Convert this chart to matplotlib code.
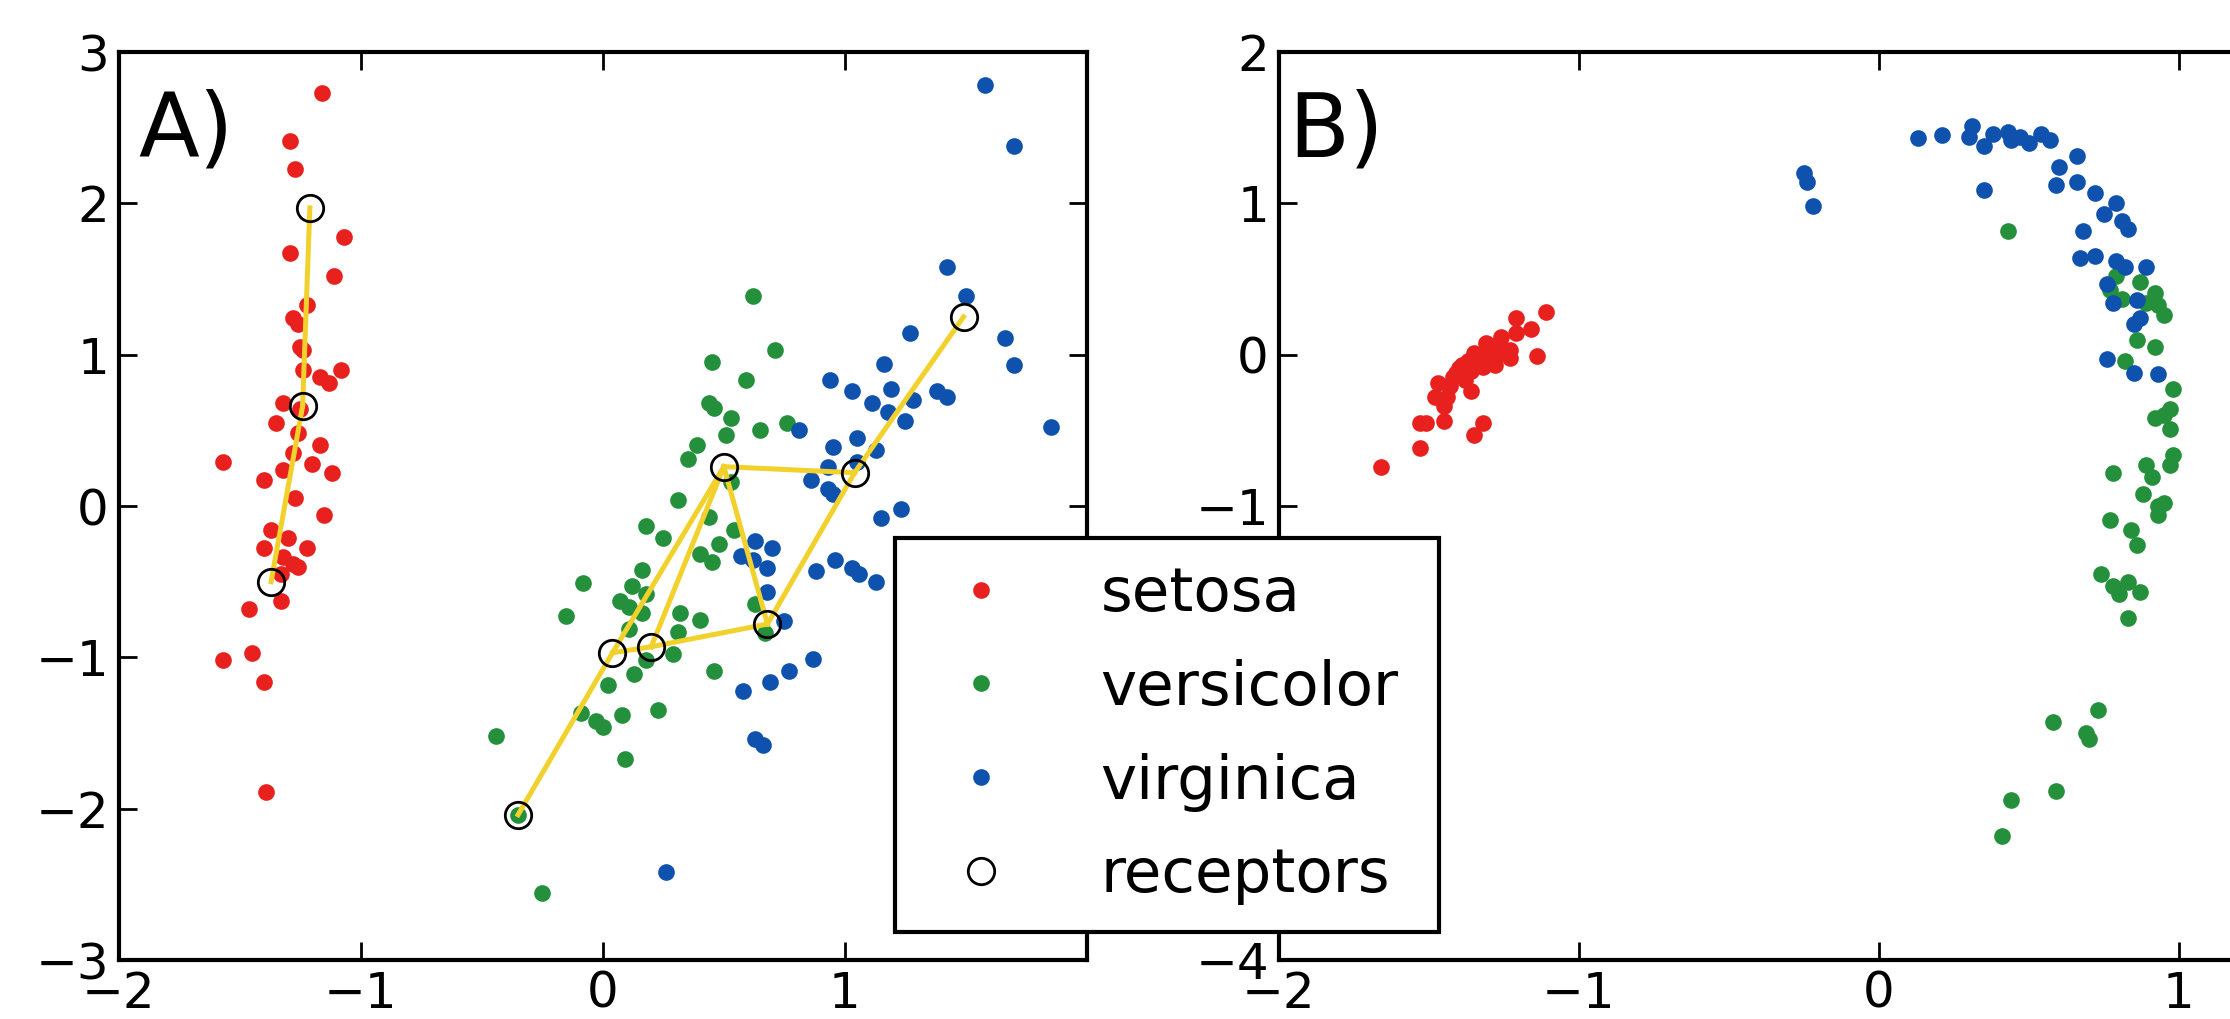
import matplotlib
matplotlib.use('Agg')
import matplotlib.pyplot as plt

# panel A: projected iris data with receptor graph
setosa_a_x = [-1.16, -1.29, -1.27, -1.07, -1.29, -1.11, -1.22, -1.28, -1.26, -1.25, -1.24,
              -1.24, -1.08, -1.17, -1.13, -1.32, -1.25, -1.35, -1.26, -1.17, -1.28, -1.57,
              -1.20, -1.32, -1.40, -1.12, -1.27, -1.15, -1.37, -1.30, -1.40, -1.22, -1.32,
              -1.28, -1.26, -1.33, -1.33, -1.46, -1.45, -1.57, -1.40, -1.39]
setosa_a_y = [2.73, 2.41, 2.23, 1.78, 1.67, 1.52, 1.33, 1.24, 1.20, 1.05, 1.03,
              0.90, 0.90, 0.85, 0.81, 0.68, 0.64, 0.55, 0.48, 0.40, 0.35, 0.29,
              0.28, 0.24, 0.17, 0.22, 0.05, -0.06, -0.16, -0.21, -0.28, -0.28, -0.34,
              -0.38, -0.40, -0.45, -0.63, -0.68, -0.97, -1.02, -1.16, -1.89]

versicolor_a_x = [0.62, 0.71, 0.45, 0.59, 0.44, 0.46, 0.53, 0.76, 0.65, 0.51, 0.39, 0.35,
                  0.53, 0.31, 0.44, 0.18, 0.25, 0.54, 0.48, 0.40, 0.45, 0.16, -0.08, 0.12,
                  0.18, 0.07, 0.11, 0.16, 0.63, 0.32, -0.15, 0.40, 0.11, 0.31, 0.67, 0.29,
                  0.18, 0.46, 0.13, 0.02, -0.09, 0.08, 0.23, -0.03, 0.00, -0.44, 0.09,
                  -0.35, -0.25]
versicolor_a_y = [1.39, 1.03, 0.95, 0.83, 0.68, 0.65, 0.58, 0.55, 0.50, 0.47, 0.40, 0.31,
                  0.16, 0.04, -0.07, -0.13, -0.21, -0.16, -0.25, -0.32, -0.37, -0.42, -0.51, -0.53,
                  -0.58, -0.63, -0.67, -0.71, -0.65, -0.71, -0.73, -0.75, -0.81, -0.83, -0.84, -0.98,
                  -1.02, -1.09, -1.11, -1.18, -1.37, -1.38, -1.35, -1.42, -1.46, -1.52, -1.67,
                  -2.04, -2.56]

virginica_a_x = [1.58, 1.70, 1.42, 1.50, 1.27, 1.66, 1.70, 1.16, 0.94, 1.03, 1.19, 1.38,
                 1.42, 1.11, 1.28, 1.18, 1.25, 1.85, 0.81, 1.05, 0.95, 1.13, 1.05, 0.93,
                 0.86, 0.93, 0.95, 1.15, 1.23, 0.63, 0.70, 0.57, 0.62, 0.68, 0.96, 0.88,
                 1.03, 1.06, 1.13, 0.68, 0.75, 0.87, 0.77, 0.69, 0.58, 0.63, 0.66, 0.26]
virginica_a_y = [2.78, 2.38, 1.58, 1.39, 1.14, 1.11, 0.93, 0.94, 0.83, 0.76, 0.77, 0.76,
                 0.72, 0.68, 0.70, 0.62, 0.56, 0.52, 0.50, 0.45, 0.39, 0.37, 0.29, 0.26,
                 0.17, 0.11, 0.08, -0.08, -0.02, -0.23, -0.28, -0.33, -0.36, -0.41, -0.36, -0.43,
                 -0.41, -0.45, -0.50, -0.57, -0.76, -1.01, -1.09, -1.16, -1.22, -1.54, -1.58, -2.42]

receptors_x = [-1.21, -1.24, -1.37, -0.35, 0.04, 0.20, 0.68, 0.50, 1.04, 1.49]
receptors_y = [1.97, 0.66, -0.50, -2.04, -0.97, -0.93, -0.78, 0.26, 0.22, 1.25]
# connections between receptors (index pairs)
edges = [(0, 1), (1, 2), (3, 4), (4, 7), (4, 5), (5, 7), (5, 6), (6, 7), (7, 8), (8, 6), (8, 9)]

# panel B: mapped data
setosa_b_x = [-1.11, -1.21, -1.16, -1.21, -1.26, -1.31, -1.14, -1.23, -1.23, -1.28, -1.35,
              -1.37, -1.32, -1.40, -1.42, -1.36, -1.38, -1.47, -1.43, -1.36, -1.48, -1.44,
              -1.45, -1.45, -1.51, -1.53, -1.32, -1.35, -1.53, -1.66, -1.30, -1.33, -1.27,
              -1.25, -1.39, -1.29, -1.41, -1.34]
setosa_b_y = [0.28, 0.24, 0.17, 0.14, 0.12, 0.08, -0.01, 0.03, -0.02, -0.07, 0.01,
              -0.04, -0.08, -0.09, -0.15, -0.11, -0.17, -0.19, -0.21, -0.24, -0.28, -0.28,
              -0.34, -0.44, -0.45, -0.45, -0.45, -0.53, -0.62, -0.74, 0.03, -0.02, 0.07,
              0.01, -0.07, -0.01, -0.12, -0.05]

versicolor_b_x = [0.43, 0.79, 0.77, 0.81, 0.87, 0.92, 0.89, 0.93, 0.95, 0.86, 0.92, 0.82,
                  0.98, 0.97, 0.92, 0.95, 0.97, 0.98, 0.97, 0.78, 0.89, 0.91, 0.88, 0.95,
                  0.93, 0.93, 0.77, 0.84, 0.86, 0.74, 0.78, 0.83, 0.87, 0.80, 0.83, 0.73,
                  0.58, 0.69, 0.70, 0.44, 0.59, 0.41]
versicolor_b_y = [0.82, 0.52, 0.43, 0.37, 0.48, 0.41, 0.34, 0.33, 0.26, 0.10, 0.05, -0.04,
                  -0.23, -0.36, -0.42, -0.40, -0.49, -0.66, -0.73, -0.78, -0.73, -0.81, -0.92, -0.98,
                  -1.00, -1.06, -1.09, -1.16, -1.26, -1.45, -1.53, -1.50, -1.57, -1.58, -1.74, -2.35,
                  -2.43, -2.50, -2.54, -2.94, -2.88, -3.18]

virginica_b_x = [-0.25, -0.24, -0.22, 0.13, 0.21, 0.31, 0.30, 0.35, 0.38, 0.43, 0.44, 0.47,
                 0.50, 0.54, 0.57, 0.35, 0.66, 0.60, 0.66, 0.59, 0.72, 0.79, 0.75, 0.81,
                 0.83, 0.68, 0.67, 0.72, 0.79, 0.82, 0.89, 0.76, 0.78, 0.86, 0.85, 0.87,
                 0.76, 0.85, 0.93]
virginica_b_y = [1.20, 1.14, 0.98, 1.43, 1.45, 1.51, 1.44, 1.38, 1.46, 1.47, 1.42, 1.44,
                 1.40, 1.46, 1.42, 1.09, 1.31, 1.24, 1.14, 1.12, 1.07, 1.00, 0.93, 0.88,
                 0.83, 0.82, 0.64, 0.65, 0.62, 0.58, 0.58, 0.47, 0.34, 0.36, 0.20, 0.24,
                 -0.03, -0.12, -0.13]

labels = ['setosa', 'versicolor', 'virginica', 'receptors']
red = '#e8211f'
green = '#24903b'
blue = '#0f52ad'
gold = '#f2d12c'

ms = 12
tick_fs = 36

fig = plt.figure(figsize=(22.3, 10.19), dpi=100)
ax1 = fig.add_axes([118.6 / 2230, 59 / 1019, 968.4 / 2230, 908 / 1019])
ax2 = fig.add_axes([1278.6 / 2230, 59 / 1019, 1200 / 2230, 908 / 1019])

h1, = ax1.plot(setosa_a_x, setosa_a_y, 'o', color=red, ms=ms, mew=0, zorder=2)
h2, = ax1.plot(versicolor_a_x, versicolor_a_y, 'o', color=green, ms=ms, mew=0, zorder=2)
h3, = ax1.plot(virginica_a_x, virginica_a_y, 'o', color=blue, ms=ms, mew=0, zorder=2)
for i, j in edges:
    ax1.plot([receptors_x[i], receptors_x[j]], [receptors_y[i], receptors_y[j]],
             '-', color=gold, lw=3.6, zorder=3)
h4, = ax1.plot(receptors_x, receptors_y, 'o', mfc='none', mec='black', mew=2, ms=19, zorder=4)

ax2.plot(setosa_b_x, setosa_b_y, 'o', color=red, ms=ms, mew=0)
ax2.plot(versicolor_b_x, versicolor_b_y, 'o', color=green, ms=ms, mew=0)
ax2.plot(virginica_b_x, virginica_b_y, 'o', color=blue, ms=ms, mew=0)

ax1.set_xlim(-2, 2)
ax1.set_ylim(-3, 3)
ax1.set_xticks([-2, -1, 0, 1])
ax1.set_yticks([-3, -2, -1, 0, 1, 2, 3])
ax2.set_xlim(-2, 2)
ax2.set_ylim(-4, 2)
ax2.set_xticks([-2, -1, 0, 1])
ax2.set_yticks([-4, -3, -2, -1, 0, 1, 2])

for ax in (ax1, ax2):
    ax.tick_params(direction='in', top=True, right=True, length=13, width=2,
                   labelsize=tick_fs, pad=7)
    for sp in ax.spines.values():
        sp.set_linewidth(3)

fig.text(138 / 2230, 1 - 157 / 1019, 'A)', fontsize=64, va='baseline', ha='left')
fig.text(1288 / 2230, 1 - 157 / 1019, 'B)', fontsize=64, va='baseline', ha='left')

# legend sits over both panels, like in the original figure
leg = fig.legend([h1, h2, h3, h4], labels, loc='upper left',
                 bbox_to_anchor=(895 / 2230, 1 - 538 / 1019, 544 / 2230, 0),
                 bbox_transform=fig.transFigure, mode='expand',
                 borderaxespad=0, fontsize=44, numpoints=1, handlelength=1.92,
                 handletextpad=1.0, borderpad=0.44, labelspacing=0.57,
                 fancybox=False, framealpha=1)
leg.get_frame().set_edgecolor('black')
leg.get_frame().set_linewidth(3)

fig.savefig('out.png', dpi=100)
